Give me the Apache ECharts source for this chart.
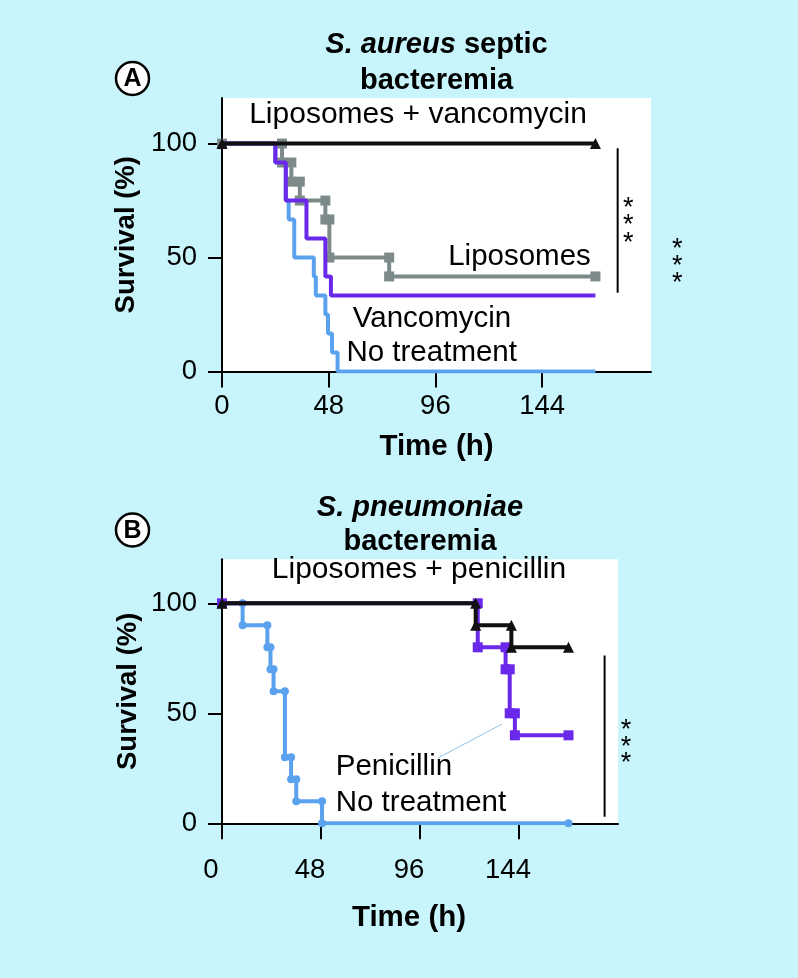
<!DOCTYPE html>
<html><head><meta charset="utf-8">
<script src="https://cdn.jsdelivr.net/npm/echarts@6/dist/echarts.min.js"></script>
<style>html,body{margin:0;padding:0;background:#c7f5fb}#c{width:798px;height:978px}</style>
</head><body><div id="c"></div>
<script>
// ---------- data ----------
const xTicks = [0, 48, 96, 144];
const yTicks = [0, 50, 100];

// Panel A: S. aureus septic bacteremia  (event time h -> survival % after event)
const aLipoVancoT = [];
const aLipoVancoS = [];
const aLipoT = [27, 31.2, 35, 46.5, 48.3, 75.2];
const aLipoS = [91.7, 83.3, 75, 66.7, 50, 41.7];
const aVancoT = [24, 28.7, 38, 46.5, 49];
const aVancoS = [91.7, 75, 58.3, 41.7, 33.3];
const aNoTxT = [24, 28.7, 30, 32.5, 41.3, 42.2, 46.5, 47.7, 49.5, 52];
const aNoTxS = [91.7, 75, 66.7, 50, 41.7, 33.3, 25, 16.7, 8.3, 0];
const aEnd = 168;

// Panel B: S. pneumoniae bacteremia
const bLipoPenT = [123, 140.3];
const bLipoPenS = [90, 80];
const bPenT = [124, 137.5, 139.5, 142];
const bPenS = [80, 70, 50, 40];
const bNoTxT = [10, 22, 23.5, 25, 30.5, 33.5, 36, 48.5];
const bNoTxS = [90, 80, 70, 60, 30, 20, 10, 0];
const bEnd = 168;

// significance brackets [x, yTop, yBottom]
const sigA = [[178, 98, 34.5], [195, 98, 1.5]];
const sigB = [[185.5, 76.3, 3]];

// ---------- helpers ----------
const F = 'Liberation Sans, Arial, Helvetica, sans-serif';
const C = {black:'#111111', gray:'#7d8a8a', purple:'#6a28ea', blue:'#5ba2ee'};

function steps(t, s, end) {
  const pts = [[0, 100]];
  let prev = 100;
  t.forEach((ti, i) => { pts.push([ti, prev]); pts.push([ti, s[i]]); prev = s[i]; });
  pts.push([end, prev]);
  return pts;
}
function curve(name, gi, t, s, end, color, symbol, size, z) {
  return {
    name, type:'line', xAxisIndex:gi, yAxisIndex:gi, data: steps(t, s, end),
    showAllSymbol:true, symbol: symbol || 'none', symbolSize: size || 0,
    itemStyle:{color}, lineStyle:{color, width:4}, z: z, animation:false, silent:true
  };
}
function sig(gi, arr) {
  return arr.map(b => ({
    type:'line', xAxisIndex:gi, yAxisIndex:gi, data:[[b[0], b[1]], [b[0], b[2]]],
    symbol:'none', clip:false, lineStyle:{color:'#000', width:2}, animation:false, silent:true
  }));
}
function xAx(gi, max, margin, nameGap, shift) {
  return {
    type:'value', gridIndex:gi, min:0, max:max,
    axisLine:{show:true, onZero:false, lineStyle:{color:'#000', width:2}},
    axisTick:{show:true, length:16, customValues:xTicks, lineStyle:{color:'#000', width:2}},
    axisLabel:{customValues:xTicks, margin:margin, fontSize:27.5, color:'#000', fontFamily:F, padding:[0, shift, 0, 0]},
    splitLine:{show:false},
    name:'Time (h)', nameLocation:'middle', nameGap:nameGap,
    nameTextStyle:{fontSize:29.5, fontWeight:'bold', color:'#000', fontFamily:F, padding:[0, shift, 0, 0]}
  };
}
function yAx(gi) {
  return {
    type:'value', gridIndex:gi, min:0, max:120,
    axisLine:{show:true, lineStyle:{color:'#000', width:2}},
    axisTick:{show:true, length:14, customValues:yTicks, lineStyle:{color:'#000', width:2}},
    axisLabel:{customValues:yTicks, margin:25, fontSize:27.5, color:'#000', fontFamily:F},
    splitLine:{show:false},
    name:'Survival (%)', nameLocation:'middle', nameGap:80,
    nameTextStyle:{fontSize:27.5, fontWeight:'bold', color:'#000', fontFamily:F}
  };
}
function txt(x, y, text, size, align, extra) {
  return Object.assign({type:'text', x:x, y:y, silent:true,
    style:{text, fill:'#000', font: size + 'px ' + F, fontSize:size, fontFamily:F,
      textAlign:align||'center', textVerticalAlign:'middle', align:align||'center', verticalAlign:'middle'}}, extra||{});
}
function titleLine(x, y, text) {
  return {type:'text', x, y, silent:true, style:{text, fill:'#000',
    textAlign:'center', textVerticalAlign:'middle', align:'center', verticalAlign:'middle',
    fontSize:29, fontFamily:F, fontWeight:'bold',
    rich:{i:{fontSize:29, fontFamily:F, fontWeight:'bold', fontStyle:'italic', fill:'#000'},
          b:{fontSize:29, fontFamily:F, fontWeight:'bold', fill:'#000'}}}};
}
function badge(cx, cy, letter) {
  return [{type:'circle', shape:{cx, cy, r:16.5}, style:{fill:'#fff', stroke:'#000', lineWidth:2.5}, silent:true},
    {type:'text', x:cx, y:cy+1, silent:true, style:{text:letter, fill:'#000', fontSize:25, fontWeight:'bold', fontFamily:F,
      textAlign:'center', textVerticalAlign:'middle', align:'center', verticalAlign:'middle'}}];
}
function stars(x, yc, gap) {
  return [-1, 0, 1].map(k => txt(x, yc + k*gap + 6, '*', 27, 'center'));
}

const chart = echarts.init(document.getElementById('c'), null, {renderer:'canvas'});
chart.setOption({
  backgroundColor:'#c7f5fb',
  animation:false,
  grid:[
    {left:222, top:98, width:429, height:273.5, show:true, backgroundColor:'#ffffff', borderWidth:0},
    {left:222, top:559.3, width:396, height:264, show:true, backgroundColor:'#ffffff', borderWidth:0}
  ],
  xAxis:[xAx(0, 193, 21, 60, 0), xAx(1, 192, 33, 80, 22)],
  yAxis:[yAx(0), yAx(1)],
  series:[
    curve('No treatment', 0, aNoTxT, aNoTxS, aEnd, C.blue, 'none', 0, 2),
    curve('Liposomes', 0, aLipoT, aLipoS, aEnd, C.gray, 'rect', 10, 3),
    curve('Vancomycin', 0, aVancoT, aVancoS, aEnd, C.purple, 'none', 0, 4),
    curve('Liposomes + vancomycin', 0, aLipoVancoT, aLipoVancoS, aEnd, C.black, 'triangle', 11, 5),
    curve('No treatment', 1, bNoTxT, bNoTxS, bEnd, C.blue, 'circle', 8, 2),
    curve('Penicillin', 1, bPenT, bPenS, bEnd, C.purple, 'rect', 10, 3),
    curve('Liposomes + penicillin', 1, bLipoPenT, bLipoPenS, bEnd, C.black, 'triangle', 11, 5),
    ...sig(0, sigA), ...sig(1, sigB)
  ],
  graphic:[
    titleLine(436.5, 45, '{i|S. aureus} {b|septic}'),
    titleLine(436.5, 80.5, '{b|bacteremia}'),
    titleLine(420, 508.3, '{i|S. pneumoniae}'),
    titleLine(420, 541.7, '{b|bacteremia}'),
    ...badge(132.5, 78.5, 'A'),
    ...badge(132.5, 530, 'B'),
    txt(418, 115, 'Liposomes + vancomycin', 30),
    txt(519.5, 256.7, 'Liposomes', 29.5),
    txt(432, 319, 'Vancomycin', 29.5),
    txt(431.7, 353.3, 'No treatment', 29.5),
    txt(419, 570, 'Liposomes + penicillin', 30),
    txt(335.7, 766.7, 'Penicillin', 29.5, 'left'),
    txt(335.7, 803.3, 'No treatment', 29.5, 'left'),
    {type:'line', silent:true, shape:{x1:438, y1:758, x2:502, y2:724}, style:{stroke:'#8cc5e8', lineWidth:1}},
    ...stars(628.3, 220, 17.3),
    ...stars(677.3, 260.7, 16.7),
    ...stars(626, 741.3, 16.3)
  ]
});
</script></body></html>
